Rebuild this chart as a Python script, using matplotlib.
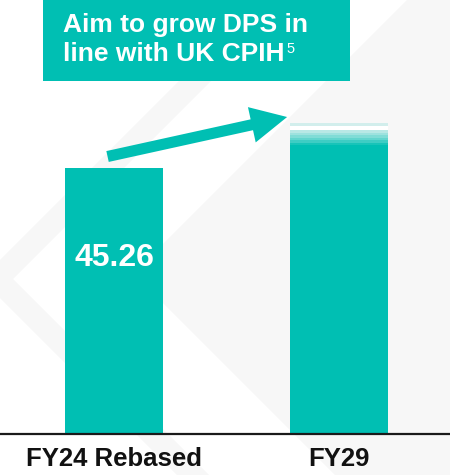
import numpy as np
import matplotlib
matplotlib.use("Agg")
import matplotlib.pyplot as plt
from matplotlib.patches import Polygon, Rectangle, FancyArrowPatch

plt.rcParams['font.family'] = ['Liberation Sans', 'DejaVu Sans']

categories = ["FY24 Rebased", "FY29"]
values = [45.26, 52.9]
value_labels = ["45.26", ""]
fade_depth = 3.75   # top part of FY29 bar that fades out

teal = "#00BFB3"
grey = "#F7F7F7"

W, H = 450, 475
fig = plt.figure(figsize=(W / 100, H / 100), dpi=100)


def px(x, y):
    # image pixel (top-left origin) -> figure fraction
    return (x / W, 1 - y / H)


# background chevron shapes
stripe = [(260, 0), (292, 0), (13, 279), (209, 475), (177, 475), (-19, 279)]
right = [(407, 0), (450, 0), (450, 475), (335, 475), (133.5, 273.5)]
for shape in (stripe, right):
    fig.patches.append(Polygon([px(x, y) for x, y in shape], closed=True,
                               transform=fig.transFigure, facecolor=grey,
                               edgecolor="none", zorder=-1))

ax = fig.add_axes([0, 41 / H, 1, 434 / H])
ax.set_zorder(1)
ax.patch.set_alpha(0)
x = np.arange(len(categories))
bw = 0.436

ax.bar(x[0], values[0], width=bw, color=teal, zorder=2)
ax.bar(x[1], values[1] - fade_depth, width=bw, color=teal, zorder=2)
# faded top of FY29 bar
n = 9
band = fade_depth / n
alphas = [0.9, 0.75, 0.6, 0.48, 0.36, 0.25, 0.0, 0.0, 0.15]
for i, a in enumerate(alphas):
    ax.bar(x[1], band, bottom=values[1] - fade_depth + i * band, width=bw,
           color=teal, alpha=a, linewidth=0, zorder=2)
# white gap line inside the fade
ax.bar(x[1], band * 2, bottom=values[1] - 3 * band, width=bw,
       color="white", linewidth=0, zorder=1.5)

for xi, v, lab in zip(x, values, value_labels):
    if lab:
        ax.text(xi, v * 0.66, lab, ha="center", va="center", color="white",
                fontsize=23, fontweight="bold", zorder=3)

ax.set_xlim(-0.507, 1.493)
ax.set_ylim(0, 73.85)
ax.set_xticks(x)
ax.set_xticklabels(categories, fontsize=18.5, fontweight="bold", color="#111111")
ax.tick_params(axis="x", length=0, pad=9)
ax.set_yticks([])
for s in ["top", "right", "left"]:
    ax.spines[s].set_visible(False)
ax.spines["bottom"].set_color("#1a1a1a")
ax.spines["bottom"].set_linewidth(1.6)

# growth arrow
arrow = FancyArrowPatch((x[0] - 0.029, values[0] + 1.96), (x[1] - 0.231, values[1] + 1.04),
                        arrowstyle="simple,head_length=26,head_width=26,tail_width=8",
                        mutation_scale=1, color=teal, shrinkA=0, shrinkB=0,
                        linewidth=0, zorder=4)
ax.add_patch(arrow)

# header box
fig.patches.append(Rectangle(px(43, 81), 307 / W, 81 / H, transform=fig.transFigure,
                             facecolor=teal, edgecolor="none", zorder=5))
fig.text(*px(63, 32), "Aim to grow DPS in", color="white", fontsize=19,
         fontweight="bold", va="baseline", ha="left", zorder=6)
fig.text(*px(63, 61), "line with UK CPIH", color="white", fontsize=19,
         fontweight="bold", va="baseline", ha="left", zorder=6)
fig.text(*px(286, 53), "5", color="white", fontsize=10.5, va="baseline",
         ha="left", zorder=6)

fig.savefig("out.png", dpi=100)
